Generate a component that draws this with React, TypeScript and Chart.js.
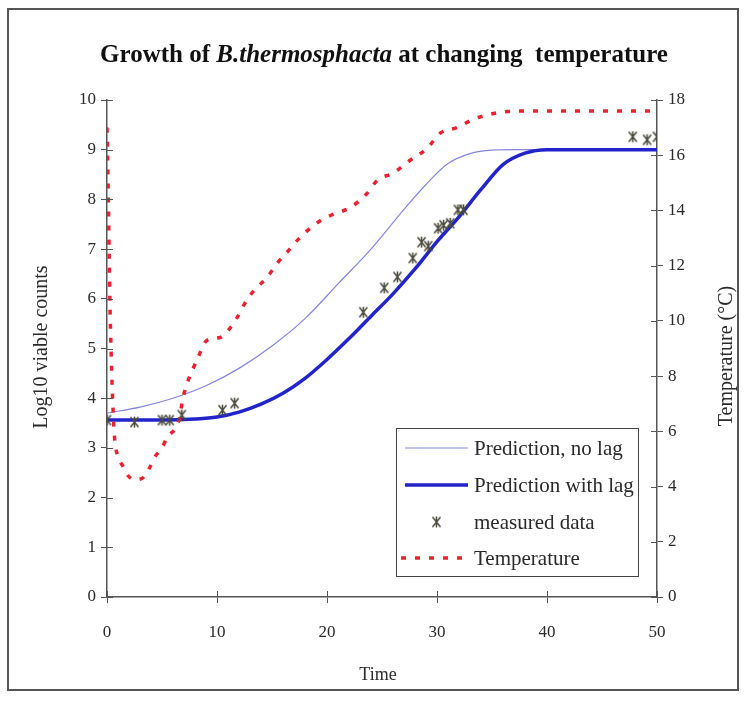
import React, { useEffect, useRef } from "react";
import { Chart, registerables } from "chart.js";
Chart.register(...registerables);

// ---- data ----
const xTicks = [0, 10, 20, 30, 40, 50];

const noLagTime = [0, 3, 6, 9, 12, 15, 18, 21, 24, 27, 29, 31, 33, 35, 37, 50];
const noLagValues = [3.7, 3.82, 4.0, 4.25, 4.6, 5.05, 5.6, 6.3, 7.0, 7.8, 8.3, 8.72, 8.92, 8.99, 9.0, 9.0];

const lagTime = [0, 5, 8, 10, 12, 14, 16, 18, 20, 22, 24, 26, 28, 30, 32, 34, 36, 38, 40, 50];
const lagValues = [3.56, 3.56, 3.58, 3.62, 3.72, 3.88, 4.1, 4.4, 4.78, 5.2, 5.65, 6.1, 6.6, 7.15, 7.65, 8.2, 8.7, 8.93, 9.0, 9.0];

const measuredTime = [0, 2.5, 5, 5.7, 6.8, 10.5, 11.6, 23.3, 25.2, 26.4, 27.8, 28.6, 29.2, 30.1, 30.6, 31.2, 31.9, 32.4, 47.8, 49.1, 50];
const measuredValues = [3.56, 3.52, 3.56, 3.56, 3.66, 3.76, 3.9, 5.73, 6.22, 6.44, 6.82, 7.14, 7.06, 7.42, 7.48, 7.52, 7.79, 7.79, 9.26, 9.2, 9.26];

const tempTime = [0, 0.1, 0.25, 0.4, 0.55, 0.7, 1.0, 1.5, 1.9, 2.5, 3.2, 3.9, 4.4, 5.0, 5.5, 6.2, 6.6, 6.9, 7.3, 8.2, 9.1, 10.3, 10.9, 11.8, 12.7, 13.6, 14.5, 15.5, 16.4, 17.5, 19.1, 20.5, 22.1, 23.6, 24.6, 26.0, 27.5, 29.1, 30.3, 31.8, 33.3, 34.5, 35.7, 37, 40, 45, 50];
const tempValues = [17, 15, 11, 8.5, 6.8, 5.7, 5.1, 4.7, 4.4, 4.25, 4.3, 4.7, 5.1, 5.4, 5.8, 6.1, 6.5, 7.2, 7.75, 8.6, 9.3, 9.4, 9.6, 10.1, 10.75, 11.2, 11.55, 12.1, 12.5, 13.0, 13.55, 13.85, 14.1, 14.6, 15.1, 15.35, 15.8, 16.25, 16.8, 17.0, 17.3, 17.45, 17.55, 17.6, 17.6, 17.6, 17.6];

const legendLabels = ["Prediction, no lag", "Prediction with lag", "measured data", "Temperature"];

const COLOR_NOLAG = "#8585df";
const COLOR_LAG = "#2323cc";
const COLOR_TEMP = "#ec2030";
const COLOR_MARK = "#4a4a3c";
const AXIS = "#555555";
const TEXT = "#2a2a2a";
const SERIF = "'Liberation Serif', 'Times New Roman', serif";

export default function App() {
  const ref = useRef<HTMLCanvasElement>(null);

  useEffect(() => {
    const canvas = ref.current;
    if (!canvas) return;

    const marker = document.createElement("canvas");
    marker.width = 11;
    marker.height = 13;
    const m = marker.getContext("2d")!;
    m.strokeStyle = COLOR_MARK;
    m.lineWidth = 1.5;
    m.beginPath();
    m.moveTo(1.5, 1.5); m.lineTo(9.5, 11.5);
    m.moveTo(9.5, 1.5); m.lineTo(1.5, 11.5);
    m.moveTo(5.5, 1); m.lineTo(5.5, 12);
    m.stroke();

    const pts = (xs: number[], ys: number[]) => xs.map((x, i) => ({ x, y: ys[i] }));

    const decor = {
      id: "decor",
      beforeDraw(chart: any) {
        const ctx = chart.ctx;
        ctx.save();
        ctx.fillStyle = "#ffffff";
        ctx.fillRect(0, 0, chart.width, chart.height);
        ctx.strokeStyle = "#555";
        ctx.lineWidth = 2;
        ctx.strokeRect(8, 9, 730, 681);
        ctx.restore();
      },
      afterDraw(chart: any) {
        const ctx = chart.ctx;
        const ca = chart.chartArea;
        const sx = chart.scales.x, sy = chart.scales.y, sy2 = chart.scales.y2;
        ctx.save();
        // inner tick halves
        ctx.strokeStyle = AXIS;
        ctx.lineWidth = 1;
        ctx.beginPath();
        sx.ticks.forEach((t: any) => {
          const px = Math.round(sx.getPixelForValue(t.value)) + 0.5;
          ctx.moveTo(px, ca.bottom); ctx.lineTo(px, ca.bottom - 6);
        });
        sy.ticks.forEach((t: any) => {
          const py = Math.round(sy.getPixelForValue(t.value)) + 0.5;
          ctx.moveTo(ca.left, py); ctx.lineTo(ca.left + 6, py);
        });
        sy2.ticks.forEach((t: any) => {
          const py = Math.round(sy2.getPixelForValue(t.value)) + 0.5;
          ctx.moveTo(ca.right, py); ctx.lineTo(ca.right - 6, py);
        });
        ctx.stroke();

        // title
        ctx.fillStyle = "#111";
        ctx.textBaseline = "middle";
        const parts = [
          { t: "Growth of ", f: `bold 25px ${SERIF}` },
          { t: "B.thermosphacta", f: `italic bold 25px ${SERIF}` },
          { t: " at changing  temperature", f: `bold 25px ${SERIF}` },
        ];
        let total = 0;
        parts.forEach(p => { ctx.font = p.f; total += ctx.measureText(p.t).width; });
        let x = 384 - total / 2;
        ctx.textAlign = "left";
        parts.forEach(p => { ctx.font = p.f; ctx.fillText(p.t, x, 56); x += ctx.measureText(p.t).width; });

        // axis titles
        ctx.fillStyle = TEXT;
        ctx.font = `18px ${SERIF}`;
        ctx.textAlign = "center";
        ctx.fillText("Time", 378, 675);
        ctx.font = `20px ${SERIF}`;
        ctx.save();
        ctx.translate(42, 347);
        ctx.rotate(-Math.PI / 2);
        ctx.fillText("Log10 viable counts", 0, 0);
        ctx.restore();
        ctx.save();
        ctx.translate(727, 356);
        ctx.rotate(-Math.PI / 2);
        ctx.fillText("Temperature (°C)", 0, 0);
        ctx.restore();

        // legend
        const bx = 396, by = 428, bw = 242, bh = 148;
        ctx.fillStyle = "#fff";
        ctx.fillRect(bx, by, bw, bh);
        ctx.strokeStyle = "#444";
        ctx.lineWidth = 1;
        ctx.strokeRect(bx + 0.5, by + 0.5, bw, bh);
        const rows = [448, 485, 522, 558];
        const lx0 = 405, lx1 = 468;
        ctx.lineCap = "butt";
        ctx.strokeStyle = COLOR_NOLAG; ctx.lineWidth = 1.2;
        ctx.beginPath(); ctx.moveTo(lx0, rows[0]); ctx.lineTo(lx1, rows[0]); ctx.stroke();
        ctx.strokeStyle = COLOR_LAG; ctx.lineWidth = 3.5;
        ctx.beginPath(); ctx.moveTo(lx0, rows[1]); ctx.lineTo(lx1, rows[1]); ctx.stroke();
        ctx.drawImage(marker, (lx0 + lx1) / 2 - 5.5, rows[2] - 6.5);
        ctx.strokeStyle = COLOR_TEMP; ctx.lineWidth = 3.5;
        ctx.setLineDash([5, 9]);
        ctx.beginPath(); ctx.moveTo(lx0 - 4, rows[3]); ctx.lineTo(lx1, rows[3]); ctx.stroke();
        ctx.setLineDash([]);
        ctx.fillStyle = TEXT;
        ctx.font = `21px ${SERIF}`;
        ctx.textAlign = "left";
        ctx.textBaseline = "middle";
        legendLabels.forEach((l, i) => ctx.fillText(l, 474, rows[i] + 1));
        ctx.restore();
      },
    };

    const tickFont = { family: SERIF, size: 17 };

    const chart = new Chart(canvas, {
      type: "line",
      data: {
        datasets: [
          {
            label: legendLabels[2],
            data: pts(measuredTime, measuredValues),
            showLine: false,
            pointStyle: marker as any,
            pointRadius: 6,
            yAxisID: "y",
          },
          {
            label: legendLabels[3],
            data: pts(tempTime, tempValues),
            borderColor: COLOR_TEMP,
            borderWidth: 3.5,
            borderDash: [5, 9],
            pointRadius: 0,
            cubicInterpolationMode: "monotone",
            yAxisID: "y2",
          },
          {
            label: legendLabels[1],
            data: pts(lagTime, lagValues),
            borderColor: COLOR_LAG,
            borderWidth: 3.5,
            pointRadius: 0,
            cubicInterpolationMode: "monotone",
            yAxisID: "y",
          },
          {
            label: legendLabels[0],
            data: pts(noLagTime, noLagValues),
            borderColor: COLOR_NOLAG,
            borderWidth: 1.2,
            pointRadius: 0,
            cubicInterpolationMode: "monotone",
            yAxisID: "y",
          },
        ],
      },
      options: {
        responsive: false,
        animation: false,
        devicePixelRatio: 1,
        layout: { padding: { top: 100, left: 0, right: 0, bottom: 0 } },
        plugins: { legend: { display: false }, tooltip: { enabled: false }, title: { display: false } },
        scales: {
          x: {
            type: "linear",
            min: 0,
            max: 50,
            afterBuildTicks: (s: any) => { s.ticks = xTicks.map(v => ({ value: v })); },
            ticks: { font: tickFont, color: TEXT, padding: 19 },
            grid: { drawOnChartArea: false, tickLength: 6, color: AXIS },
            border: { color: AXIS, width: 1.5 },
            afterFit: (s: any) => { s.height = 105; },
          },
          y: {
            position: "left",
            min: 0,
            max: 10,
            ticks: { stepSize: 1, font: tickFont, color: TEXT, padding: 5 },
            grid: { drawOnChartArea: false, tickLength: 6, color: AXIS },
            border: { color: AXIS, width: 1.5 },
            afterFit: (s: any) => { s.width = 107; },
          },
          y2: {
            position: "right",
            min: 0,
            max: 18,
            ticks: { stepSize: 2, font: tickFont, color: TEXT, padding: 5 },
            grid: { drawOnChartArea: false, tickLength: 6, color: AXIS },
            border: { color: AXIS, width: 1.5 },
            afterFit: (s: any) => { s.width = 88; },
          },
        },
      },
      plugins: [decor],
    } as any);

    return () => chart.destroy();
  }, []);

  return (
    <div style={{ position: "fixed", left: 0, top: 0, width: 745, height: 702, background: "#fff" }}>
      <canvas ref={ref} width={745} height={702} style={{ width: 745, height: 702, display: "block" }} />
    </div>
  );
}
